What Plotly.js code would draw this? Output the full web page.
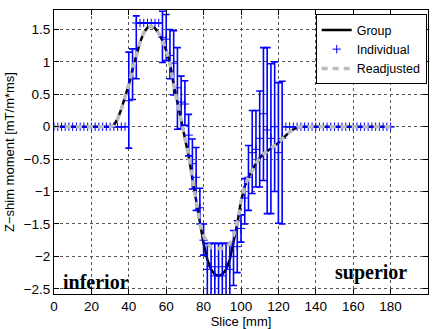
<!DOCTYPE html>
<html>
<head>
<meta charset="utf-8">
<script src="https://cdn.plot.ly/plotly-3.0.1.min.js"></script>
<style>html,body{margin:0;padding:0;background:#fff;}#chart{width:439px;height:329px;}</style>
</head>
<body>
<div id="chart"></div>
<script>
// Slice positions [mm]
var slices = [0,2,4,6,8,10,12,14,16,18,20,22,24,26,28,30,32,34,36,38,
  40,42,44,46,48,50,52,54,56,58,60,62,64,66,68,70,72,74,76,78,
  80,82,84,86,88,90,92,94,96,98,100,102,104,106,108,110,112,114,116,118,
  120,122,124,126,128,130,132,134,136,138,140,142,144,146,148,150,152,154,156,158,
  160,162,164,166,168,170,172,174,176,178,180];

// Group z-shim moment
var groupVals = [0,0,0,0,0,0,0,0,0,0,0,0,0,0,0,0,0.02,0.12,0.27,0.45,
  0.65,0.88,1.10,1.30,1.45,1.53,1.55,1.52,1.44,1.33,1.18,0.98,0.65,0.38,0.12,-0.15,-0.45,-0.80,-1.15,-1.50,
  -1.80,-2.05,-2.20,-2.28,-2.30,-2.28,-2.20,-2.05,-1.80,-1.50,-1.15,-0.92,-0.78,-0.66,-0.57,-0.48,-0.42,-0.38,-0.34,-0.30,
  -0.25,-0.19,-0.13,-0.08,-0.04,-0.01,0,0,0,0,0,0,0,0,0,0,0,0,0,0,
  0,0,0,0,0,0,0,0,0,0,0];

// Readjusted z-shim moment
var readjVals = [0,0,0,0,0,0,0,0,0,0,0,0,0,0,0,0,0.02,0.12,0.27,0.45,
  0.65,0.88,1.10,1.30,1.45,1.53,1.55,1.52,1.44,1.33,1.18,0.98,0.65,0.38,0.12,-0.15,-0.45,-0.80,-1.15,-1.50,
  -1.68,-1.80,-1.86,-1.88,-1.88,-1.88,-1.86,-1.80,-1.68,-1.50,-1.15,-0.92,-0.78,-0.66,-0.57,-0.48,-0.42,-0.38,-0.34,-0.30,
  -0.25,-0.19,-0.13,-0.08,-0.04,-0.01,0,0,0,0,0,0,0,0,0,0,0,0,0,0,
  0,0,0,0,0,0,0,0,0,0,0];

// Individual mean values and error bars (upper / lower)
var indivVals = [0,0,0,0,0,0,0,0,0,0,0,0,0,0,0,0,0,0,0,0,
  0.40,0.75,1.60,1.60,1.60,1.60,1.60,1.60,1.60,1.38,1.35,1.10,0.98,0.60,0.38,0.35,-0.13,-0.57,-0.78,-1.25,
  -1.75,-2.20,-2.16,-2.30,-2.16,-2.30,-2.16,-2.20,-2.00,-1.85,-1.57,-1.10,-0.78,-0.40,-0.35,-0.18,0.20,-0.05,-0.18,0.00,
  -0.40,-0.18,0,0,0,0,0,0,0,0,0,0,0,0,0,0,0,0,0,0,
  0,0,0,0,0,0,0,0,0,0,0];
var indivErrUp = [0,0,0,0,0,0,0,0,0,0,0,0,0,0,0,0,0,0,0,0,
  0.75,0.45,0.11,0,0,0,0,0,0,0.40,0.38,0.40,0.50,0.62,0.40,0.36,0.32,0.38,0.46,0.30,
  0.25,0.40,0.36,0.50,0.36,0.50,0.36,0.40,0.40,0.40,0.21,0.30,0.49,0.65,0.60,0.73,1.02,1.27,1.15,1.00,
  1.08,0.88,0,0,0,0,0,0,0,0,0,0,0,0,0,0,0,0,0,0,
  0,0,0,0,0,0,0,0,0,0,0];
var indivErrDown = [0,0,0,0,0,0,0,0,0,0,0,0,0,0,0,0,0,0,0,0,
  0.73,0.33,0.86,0,0,0,0,0,0,0.39,0.33,0.36,0.49,0.64,0.41,0.33,0.32,0.39,0.51,0.25,
  0.23,0.50,0.54,0.45,0.50,0.45,0.50,0.45,0.45,0.40,0.21,0.40,0.51,0.63,0.58,0.75,1.03,1.29,1.16,1.00,
  1.09,1.32,0,0,0,0,0,0,0,0,0,0,0,0,0,0,0,0,0,0,
  0,0,0,0,0,0,0,0,0,0,0];

var xTicks = [0,20,40,60,80,100,120,140,160,180,200];
var yTicks = [-2.5,-2,-1.5,-1,-0.5,0,0.5,1,1.5];

var traces = [
  {x: slices, y: groupVals, name: 'Group', mode: 'lines',
   line: {color: '#000000', width: 2.5}},
  {x: slices, y: indivVals, name: 'Individual', mode: 'markers',
   marker: {symbol: 'cross-thin', size: 6, color: '#0000ff', line: {color: '#0000ff', width: 1}},
   error_y: {type: 'data', symmetric: false, array: indivErrUp, arrayminus: indivErrDown,
             color: '#0000ff', thickness: 1.6, width: 3.5}},
  {x: slices, y: readjVals, name: 'Readjusted', mode: 'lines',
   line: {color: '#bcbcbc', width: 3.5, dash: '6px,5px'}}
];

var axisCommon = {
  showline: true, linecolor: '#000', linewidth: 1, mirror: 'ticks',
  ticks: 'inside', ticklen: 5, tickcolor: '#000',
  showgrid: true, gridcolor: '#555', griddash: 'dot', gridwidth: 1,
  zeroline: false,
  tickfont: {family: 'Liberation Sans, Arial, sans-serif', size: 13.5, color: '#000'}
};

var layout = {
  width: 439, height: 329,
  margin: {l: 54, r: 11, t: 10, b: 35},
  paper_bgcolor: '#fff', plot_bgcolor: '#fff',
  showlegend: true,
  legend: {x: 0.9965, y: 0.985, xanchor: 'right', yanchor: 'top',
           bordercolor: '#000', borderwidth: 1, bgcolor: '#fff',
           font: {family: 'Liberation Sans, Arial, sans-serif', size: 12.5, color: '#000'},
           tracegroupgap: 0, itemwidth: 30},
  xaxis: Object.assign({}, axisCommon, {
    range: [0, 200], tickvals: xTicks, ticktext: xTicks.map(String),
    title: {text: 'Slice [mm]', font: {family: 'Liberation Sans, Arial, sans-serif', size: 13, color: '#000'}, standoff: 2}
  }),
  yaxis: Object.assign({}, axisCommon, {
    range: [-2.58, 1.8], tickvals: yTicks,
    ticktext: yTicks.map(function(v){ return String(v).replace('-', '\u2212'); }),
    title: {text: 'Z\u2212shim moment [mT/m*ms]', font: {family: 'Liberation Sans, Arial, sans-serif', size: 13, color: '#000'}, standoff: 6}
  }),
  annotations: [
    {x: 4, y: -2.4, xref: 'x', yref: 'y', xanchor: 'left', yanchor: 'middle', showarrow: false,
     text: '<b>inferior</b>', font: {family: 'Liberation Serif, Times New Roman, serif', size: 20, color: '#000'}},
    {x: 149, y: -2.25, xref: 'x', yref: 'y', xanchor: 'left', yanchor: 'middle', showarrow: false,
     text: '<b>superior</b>', font: {family: 'Liberation Serif, Times New Roman, serif', size: 20, color: '#000'}}
  ]
};

Plotly.newPlot('chart', traces, layout, {displayModeBar: false, staticPlot: true});
</script>
</body>
</html>
